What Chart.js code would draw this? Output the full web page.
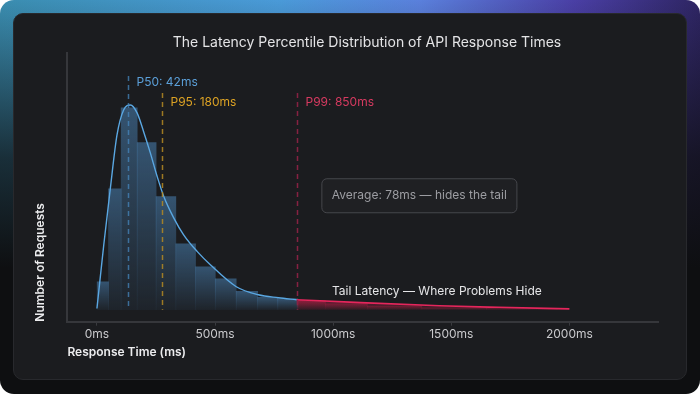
<!DOCTYPE html>
<html>
<head>
<meta charset="utf-8">
<script src="https://cdn.jsdelivr.net/npm/chart.js@4.4.1/dist/chart.umd.min.js"></script>
<style>
  html, body { margin: 0; padding: 0; background: #ffffff; }
  .frame {
    position: relative; width: 700px; height: 394px; border-radius: 14px; overflow: hidden;
    background:
      linear-gradient(180deg, rgba(14,15,17,0) 0%, rgba(14,15,17,0.75) 40%, #0e0f11 68%),
      linear-gradient(90deg, #3a8db0 0%, #4a9ad8 40%, #5a80dc 60%, #4a3fa5 82%, #2e2563 100%);
  }
  .card {
    position: absolute; left: 13px; top: 13px; width: 672px; height: 365px;
    border-radius: 10px; background: #1b1c1f; border: 1px solid #28292d;
  }
  .title {
    position: absolute; left: 0; top: 33px; width: 734px; text-align: center;
    font: 14px Inter, sans-serif; line-height: 18px; color: #e4e4e6;
  }
  #chart { position: absolute; left: 13px; top: 13px; }
</style>
</head>
<body>
<div class="frame">
  <div class="card"></div>
  <canvas id="chart" width="674" height="367"></canvas>
  <div class="title">The Latency Percentile Distribution of API Response Times</div>
</div>
<script>
// x axis ticks (ms)
const xTicks = [0, 500, 1000, 1500, 2000];

// histogram bins: centre (ms) and request count
const binCenters = [25, 73, 132, 209, 292, 376, 459, 543, 636, 725, 806, 895, 1040, 1250, 1500, 1800];
const binCounts = [140, 605, 1010, 836, 566, 330, 215, 155, 92, 62, 54, 46, 30, 18, 10, 6];

// fitted distribution curve
const curveMs = [0, 29, 57, 85, 113, 142, 170, 198, 226, 255, 283, 325, 367, 424, 480, 590, 683, 768, 845, 1070, 1450, 1700, 2000];
const curveCounts = [6, 325, 610, 875, 1000, 1025, 985, 890, 785, 667, 567, 460, 375, 292, 225, 115, 75, 60, 50, 38, 20, 12, 4];

// percentile markers
const percentileLabels = ['P50: 42ms', 'P95: 180ms', 'P99: 850ms'];
const percentileAt = [132, 276, 845];
const tailStart = 845;

const averageNote = 'Average: 78ms — hides the tail';
const tailNote = 'Tail Latency — Where Problems Hide';

Chart.defaults.font.family = 'Inter, sans-serif';

const markerStyle = [
  { line: 'rgba(70,135,190,0.75)', text: '#5b9fd8', top: 1170, labelY: 1140 },
  { line: 'rgba(180,138,35,0.85)', text: '#dca224', top: 1085, labelY: 1040 },
  { line: 'rgba(140,34,68,0.95)', text: '#d63a60', top: 1085, labelY: 1040 }
];

function barFill(ctx) {
  const chart = ctx.chart;
  if (!chart.chartArea || !ctx.parsed) return 'rgba(74,130,180,0.4)';
  const ys = chart.scales.y;
  const top = ys.getPixelForValue(ctx.parsed.y);
  const base = ys.getPixelForValue(0);
  const g = chart.ctx.createLinearGradient(0, top, 0, base);
  if (ctx.parsed.x > tailStart) {
    g.addColorStop(0, 'rgba(200,30,70,0.35)');
    g.addColorStop(1, 'rgba(200,30,70,0.06)');
  } else {
    g.addColorStop(0, 'rgba(74,130,180,0.55)');
    g.addColorStop(1, 'rgba(74,130,180,0.08)');
  }
  return g;
}

function tailFill(ctx) {
  const chart = ctx.chart;
  if (!chart.chartArea) return 'rgba(220,30,80,0.2)';
  const ys = chart.scales.y;
  const g = chart.ctx.createLinearGradient(0, ys.getPixelForValue(55), 0, ys.getPixelForValue(0));
  g.addColorStop(0, 'rgba(225,35,85,0.45)');
  g.addColorStop(1, 'rgba(225,35,85,0.05)');
  return g;
}

const overlays = {
  id: 'overlays',
  afterDatasetsDraw(chart) {
    const { ctx, scales: { x, y } } = chart;
    const base = y.getPixelForValue(0);
    ctx.save();
    ctx.font = '12px Inter, sans-serif';
    ctx.textBaseline = 'middle';
    percentileAt.forEach((ms, i) => {
      const st = markerStyle[i];
      const px = Math.round(x.getPixelForValue(ms)) + 0.5;
      ctx.strokeStyle = st.line;
      ctx.lineWidth = 1.5;
      ctx.setLineDash([5, 4]);
      ctx.beginPath();
      ctx.moveTo(px, y.getPixelForValue(st.top));
      ctx.lineTo(px, base);
      ctx.stroke();
      ctx.setLineDash([]);
      ctx.fillStyle = st.text;
      ctx.textAlign = 'left';
      ctx.fillText(percentileLabels[i], px + 8, y.getPixelForValue(st.labelY));
    });

    // average note box
    const bx = x.getPixelForValue(950);
    const by = y.getPixelForValue(658);
    const bw = ctx.measureText(averageNote).width + 20;
    const bh = 34;
    ctx.beginPath();
    ctx.roundRect(bx + 0.5, by + 0.5, bw, bh, 5);
    ctx.fillStyle = 'rgba(255,255,255,0.02)';
    ctx.fill();
    ctx.strokeStyle = '#46474c';
    ctx.lineWidth = 1;
    ctx.stroke();
    ctx.fillStyle = '#9c9da2';
    ctx.fillText(averageNote, bx + 10.5, by + bh / 2 + 0.5);

    // tail label
    ctx.font = '12px Inter, sans-serif';
    ctx.fillStyle = '#e6e6e8';
    ctx.textAlign = 'center';
    ctx.fillText(tailNote, x.getPixelForValue(1439), y.getPixelForValue(93));
    ctx.restore();
  }
};

const curvePts = curveMs.map((ms, i) => ({ x: ms, y: curveCounts[i] }));

new Chart(document.getElementById('chart'), {
  data: {
    datasets: [
      {
        type: 'line',
        label: 'Tail',
        data: curvePts.filter(p => p.x >= tailStart),
        borderColor: '#e5265c',
        borderWidth: 1.6,
        pointRadius: 0,
        cubicInterpolationMode: 'monotone',
        fill: 'origin',
        backgroundColor: tailFill,
        order: 1
      },
      {
        type: 'line',
        label: 'Distribution',
        data: curvePts.filter(p => p.x <= tailStart),
        borderColor: '#5aa7e2',
        borderWidth: 1.4,
        pointRadius: 0,
        cubicInterpolationMode: 'monotone',
        fill: false,
        order: 0
      },
      {
        type: 'bar',
        label: 'Requests',
        data: binCenters.map((ms, i) => ({ x: ms, y: binCounts[i] })),
        backgroundColor: barFill,
        borderWidth: 0,
        barThickness: 'flex',
        barPercentage: 1,
        categoryPercentage: 1,
        order: 2
      }
    ]
  },
  options: {
    responsive: false,
    animation: false,
    layout: { padding: { top: 40, right: 29, bottom: 16, left: 16 } },
    plugins: {
      legend: { display: false },
      tooltip: { enabled: false }
    },
    scales: {
      x: {
        type: 'linear',
        offset: false,
        min: -125,
        max: 2375,
        afterBuildTicks: axis => { axis.ticks = xTicks.map(v => ({ value: v })); },
        ticks: {
          color: '#c9c9cc',
          font: { size: 12 },
          padding: 1,
          maxRotation: 0,
          callback: v => v + 'ms'
        },
        grid: { display: true, offset: false, drawOnChartArea: false, drawTicks: true, tickLength: 4, color: '#3a3b3f' },
        border: { display: true, color: '#36373b', width: 2 },
        title: {
          display: true,
          text: 'Response Time (ms)',
          align: 'start',
          color: '#ececee',
          font: { size: 12, weight: '600' },
          padding: { top: 3.5, bottom: 4 }
        }
      },
      y: {
        type: 'linear',
        min: -60,
        max: 1285,
        ticks: { display: false },
        grid: { display: false, drawTicks: false },
        border: { display: true, color: '#36373b', width: 2 },
        title: {
          display: true,
          text: 'Number of Requests',
          align: 'start',
          color: '#ececee',
          font: { size: 12, weight: '600' },
          padding: { top: 4, bottom: 20 }
        }
      }
    }
  },
  plugins: [overlays]
});
</script>
</body>
</html>
